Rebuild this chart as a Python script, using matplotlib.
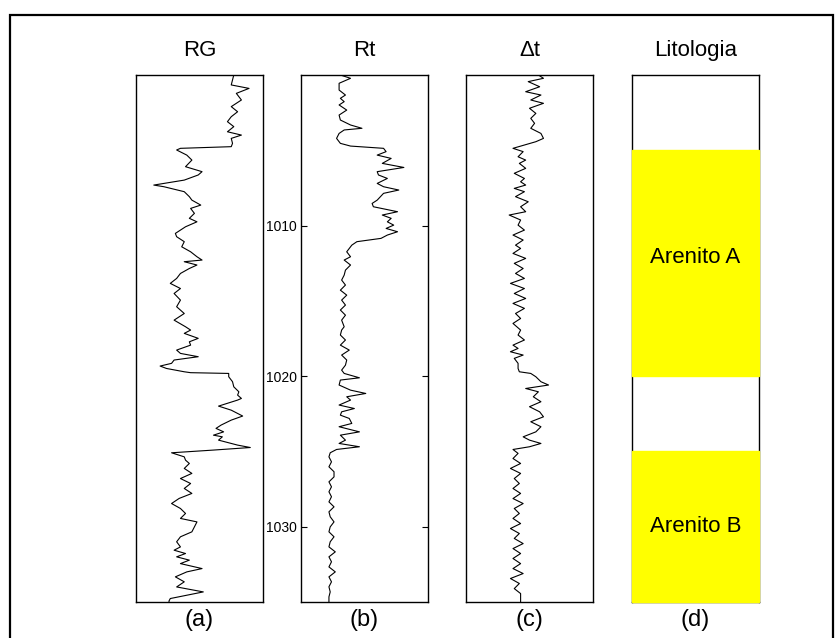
import matplotlib
matplotlib.use('Agg')
import matplotlib.pyplot as plt
from matplotlib.patches import Rectangle

plt.rcParams['font.family'] = ['Liberation Sans', 'DejaVu Sans']

### DATA
# gamma ray (RG), % of track width
rg_depth = [1000.00, 1000.66, 1000.89, 1001.22, 1001.66, 1002.10, 1002.44, 1002.77, 1003.10, 1003.43,
	1003.77, 1003.99, 1004.21, 1004.54, 1004.76, 1004.87, 1004.98, 1005.32, 1005.65, 1006.09,
	1006.42, 1006.64, 1006.98, 1007.31, 1007.42, 1007.75, 1008.08, 1008.31, 1008.64, 1008.86,
	1009.19, 1009.52, 1009.75, 1010.08, 1010.30, 1010.52, 1010.74, 1011.07, 1011.41, 1011.74,
	1012.07, 1012.29, 1012.40, 1012.62, 1012.85, 1013.18, 1013.51, 1013.84, 1014.18, 1014.51,
	1014.95, 1015.39, 1015.84, 1016.28, 1016.72,
	1016.94, 1017.16, 1017.49, 1017.72, 1017.94, 1018.27, 1018.49, 1018.71, 1018.93, 1019.15,
	1019.33, 1019.49, 1019.71, 1019.77, 1019.82, 1020.04, 1020.37, 1020.71, 1021.04, 1021.26,
	1021.48, 1021.59, 1021.99, 1022.26, 1022.65, 1022.92, 1023.25, 1023.47, 1023.70, 1023.92,
	1024.03, 1024.25, 1024.47, 1024.58, 1024.74, 1024.91, 1025.09, 1025.36, 1025.58, 1025.80,
	1026.13, 1026.46, 1026.80, 1027.13, 1027.46, 1027.79, 1028.12, 1028.46, 1028.79, 1029.12,
	1029.45, 1029.68, 1030.01, 1030.34, 1030.67, 1031.00, 1031.34, 1031.56, 1031.78, 1032.00,
	1032.22, 1032.45, 1032.78, 1033.00, 1033.33, 1033.66, 1034.00, 1034.33, 1034.55, 1034.77,
	1034.93, 1035.00]
rg = [77, 75, 89, 79, 83, 75, 80, 75, 72, 77,
	72, 83, 75, 76, 75, 35, 32, 40, 44, 39,
	52, 49, 38, 14, 22, 38, 42, 44, 51, 43,
	46, 42, 48, 39, 35, 31, 32, 38, 36, 43,
	48, 52, 38, 48, 42, 35, 32, 27, 35, 30,
	35, 32, 38, 30, 39,
	43, 38, 49, 42, 43, 32, 35, 49, 30, 28,
	19, 24, 38, 43, 73, 73, 76, 77, 81, 80,
	83, 80, 65, 75, 84, 75, 67, 63, 69, 61,
	68, 65, 75, 80, 90, 61, 28, 38, 39, 42,
	38, 44, 35, 43, 38, 44, 34, 28, 35, 39,
	35, 48, 46, 44, 35, 32, 35, 30, 39, 32,
	42, 35, 52, 40, 31, 38, 32, 53, 40, 27,
	26, 26]

# resistivity (Rt)
rt_depth = [1000.00, 1000.22, 1000.55, 1001.00, 1001.33, 1001.55, 1001.77, 1001.99, 1002.33, 1002.66,
	1002.99, 1003.32, 1003.54, 1003.65, 1003.88, 1004.21, 1004.54, 1004.72, 1004.87, 1005.09,
	1005.32, 1005.54, 1005.87, 1006.14, 1006.42, 1006.64, 1006.87, 1007.20, 1007.42, 1007.64,
	1007.86, 1008.31, 1008.53, 1008.75, 1009.08, 1009.30, 1009.52, 1009.75, 1009.97, 1010.19,
	1010.41, 1010.63, 1010.85, 1011.07, 1011.30, 1011.52, 1011.74, 1012.07, 1012.29, 1012.62,
	1012.96, 1013.29, 1013.62, 1013.95, 1014.29, 1014.62, 1014.95, 1015.28, 1015.61, 1015.95,
	1016.28, 1016.72,
	1016.94, 1017.27, 1017.60, 1017.94, 1018.27, 1018.60, 1018.93, 1019.27, 1019.60, 1019.82,
	1020.11, 1020.26, 1020.59, 1020.93, 1021.15, 1021.37, 1021.59, 1021.92, 1022.15, 1022.37,
	1022.59, 1022.81, 1023.14, 1023.36, 1023.70, 1023.92, 1024.25, 1024.47, 1024.69, 1024.87,
	1025.09, 1025.36, 1025.69, 1026.02, 1026.35, 1026.69, 1027.02, 1027.35, 1027.68, 1028.01,
	1028.35, 1028.68, 1029.01, 1029.34, 1029.68, 1030.01, 1030.34, 1030.67, 1031.00, 1031.34,
	1031.67, 1032.00, 1032.33, 1032.67, 1033.00, 1033.33, 1033.66, 1033.99, 1034.33, 1034.66,
	1034.93, 1035.00]
rt = [31, 39, 30, 30, 35, 31, 34, 30, 36, 30,
	31, 39, 48, 34, 30, 28, 31, 39, 65, 67,
	60, 71, 64, 81, 60, 61, 68, 60, 65, 77,
	65, 60, 56, 57, 76, 64, 71, 68, 73, 67,
	76, 68, 63, 44, 40, 38, 36, 39, 34, 39,
	35, 34, 32, 35, 31, 36, 32, 35, 31, 35,
	32, 34,
	32, 31, 35, 31, 38, 32, 36, 35, 32, 34,
	46, 31, 30, 39, 51, 36, 39, 30, 42, 32,
	31, 38, 40, 30, 46, 31, 35, 30, 46, 28,
	23, 22, 24, 22, 26, 26, 22, 24, 22, 24,
	22, 26, 22, 23, 26, 23, 22, 26, 23, 22,
	27, 22, 24, 22, 27, 22, 24, 22, 23, 22,
	22, 22]

# sonic transit time (delta t)
dt_depth = [1000.00, 1000.22, 1000.44, 1000.78, 1001.11, 1001.33, 1001.66, 1001.88, 1002.21, 1002.55,
	1002.88, 1003.21, 1003.54, 1003.88, 1004.21, 1004.43, 1004.65, 1004.87, 1005.09, 1005.43,
	1005.65, 1005.87, 1006.20, 1006.53, 1006.87, 1007.09, 1007.31, 1007.53, 1007.75, 1008.08,
	1008.42, 1008.75, 1009.08, 1009.30, 1009.63, 1009.97, 1010.30, 1010.63, 1010.96, 1011.30,
	1011.52, 1011.85, 1012.18, 1012.51, 1012.85, 1013.18, 1013.51, 1013.84, 1014.18, 1014.51,
	1014.84, 1015.17, 1015.50, 1015.84, 1016.17, 1016.50,
	1016.94, 1017.27, 1017.60, 1017.94, 1018.16, 1018.38, 1018.60, 1018.82, 1019.15, 1019.49,
	1019.71, 1019.82, 1020.04, 1020.37, 1020.59, 1020.82, 1021.04, 1021.37, 1021.70, 1022.03,
	1022.37, 1022.70, 1023.03, 1023.36, 1023.70, 1024.03, 1024.25, 1024.47, 1024.69, 1024.87,
	1025.13, 1025.47, 1025.80, 1026.13, 1026.46, 1026.80, 1027.13, 1027.46, 1027.79, 1028.13,
	1028.46, 1028.79, 1029.12, 1029.45, 1029.79, 1030.12, 1030.45, 1030.78, 1031.12, 1031.45,
	1031.78, 1032.11, 1032.45, 1032.78, 1033.11, 1033.44, 1033.77, 1034.11, 1034.44, 1034.77,
	1035.00]
dt = [57, 61, 49, 58, 47, 59, 51, 61, 50, 55,
	51, 54, 51, 59, 61, 55, 46, 37, 45, 41,
	47, 42, 47, 38, 46, 43, 47, 38, 46, 39,
	49, 43, 47, 34, 43, 41, 46, 37, 45, 39,
	43, 37, 47, 38, 45, 39, 46, 35, 46, 38,
	47, 37, 46, 39, 43, 37,
	43, 41, 46, 37, 41, 35, 45, 38, 41, 41,
	42, 51, 55, 59, 65, 47, 57, 53, 59, 50,
	58, 61, 51, 59, 55, 45, 50, 59, 50, 37,
	41, 37, 43, 35, 43, 38, 42, 37, 43, 37,
	45, 38, 42, 37, 43, 35, 42, 38, 45, 37,
	43, 37, 43, 37, 45, 35, 42, 38, 43, 43,
	43]

# lithology intervals (top, base, label depth, name)
lito_top = [1005, 1025]
lito_base = [1020, 1035]
lito_label = [1012.1, 1030]
lito_name = ['Arenito A', 'Arenito B']

titles = ['RG', 'Rt', '\u0394t', 'Litologia']
letters = ['(a)', '(b)', '(c)', '(d)']
depth_ticks = [1010, 1020, 1030]

### FIGURE
W, H = 839, 638
fig = plt.figure(figsize=(W / 100, H / 100), dpi=100)

# outer frame
fig.patches.append(Rectangle((10 / W, -0.02), 823 / W, 1.02 - 15 / H, transform=fig.transFigure,
	fill=False, edgecolor='black', linewidth=1.6, clip_on=False))

lefts = [136, 301, 466, 632]
axes = []
for k, x0 in enumerate(lefts):
	ax = fig.add_axes([x0 / W, 1 - 602 / H, 127 / W, 527 / H])
	ax.set_ylim(1035, 1000)
	ax.set_xlim(0, 100)
	for s in ax.spines.values():
		s.set_linewidth(1.0)
	ax.set_xticks([])
	ax.set_yticks([])
	ax.set_title(titles[k], fontsize=16, pad=14)
	ax.set_xlabel(letters[k], fontsize=17, labelpad=5)
	axes.append(ax)

axes[0].plot(rg, rg_depth, color='black', linewidth=0.8)
axes[1].plot(rt, rt_depth, color='black', linewidth=0.8)
axes[2].plot(dt, dt_depth, color='black', linewidth=0.8)

# depth scale only on the Rt track
axes[1].set_yticks(depth_ticks)
axes[1].tick_params(axis='y', direction='in', length=4, width=0.8, left=True, right=True,
	labelsize=10, pad=3)

for top, base, yl, name in zip(lito_top, lito_base, lito_label, lito_name):
	axes[3].axhspan(top, base, color='#ffff00', zorder=3, clip_on=False)
	axes[3].text(50, yl, name, ha='center', va='center', fontsize=16, zorder=4)

fig.savefig('out.png', dpi=100)
